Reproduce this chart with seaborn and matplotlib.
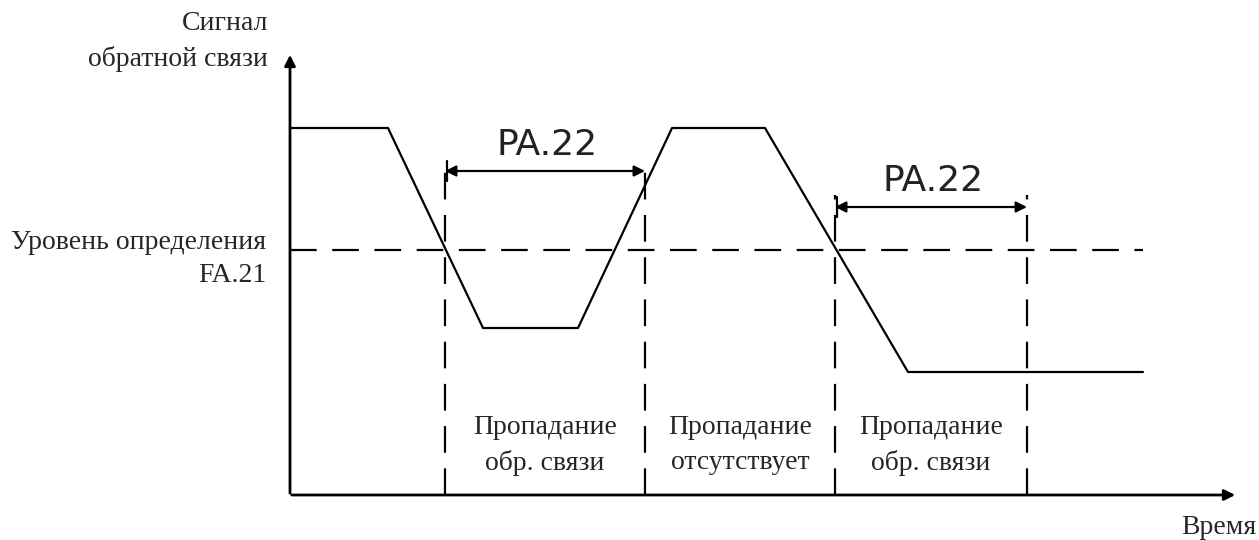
import numpy as np
import pandas as pd
import matplotlib
matplotlib.use("Agg")
import matplotlib.pyplot as plt
import seaborn as sns

sns.set_style("white")
plt.rcParams['font.family'] = ['Liberation Serif', 'DejaVu Serif']

# signal breakpoints (time, level) in drawing units
t_signal = [290, 388, 483, 578, 672, 765, 908, 1143]
v_signal = [412, 412, 212, 212, 412, 412, 168, 168]
threshold = 290
t_marks = [445, 645, 835, 1027]
delay_spans = [(445, 645), (835, 1027)]
delay_label = "PA.22"
zone_labels = ["Пропадание\nобр. связи", "Пропадание\nотсутствует", "Пропадание\nобр. связи"]

df = pd.DataFrame({"t": t_signal, "v": v_signal})

fig = plt.figure(figsize=(12.59, 5.40), dpi=100)
ax = fig.add_axes([0, 0, 1, 1])
ax.set_xlim(0, 1259)
ax.set_ylim(0, 540)
ax.axis("off")

# axes with arrows
x0, y0 = 290, 45
ax.annotate("", xy=(x0, 488), xytext=(x0, y0 - 1),
            arrowprops=dict(arrowstyle="-|>", color="black", lw=2, mutation_scale=16))
ax.annotate("", xy=(1238, y0), xytext=(x0 - 1, y0),
            arrowprops=dict(arrowstyle="-|>", color="black", lw=2, mutation_scale=16))

# signal
sns.lineplot(data=df, x="t", y="v", ax=ax, color="black", lw=1.6, legend=False)

# threshold
ax.plot([x0, 1143], [threshold, threshold], color="black", lw=1.6, ls=(0, (12, 7)))

# vertical dashed markers
tops = [378, 378, 345, 345]
for tm, top in zip(t_marks, tops):
    ax.plot([tm, tm], [y0, top], color="black", lw=1.6, ls=(0, (12, 7)))

# delay arrows
for (a, b), ya in zip(delay_spans, [369, 333]):
    ax.annotate("", xy=(b, ya), xytext=(a, ya),
                arrowprops=dict(arrowstyle="<|-|>", color="black", lw=1.6,
                                mutation_scale=16, shrinkA=0, shrinkB=0))
    ax.plot([a + 2, a + 2], [ya - 10, ya + 10], color="black", lw=1.6)
    ax.text((a + b) / 2 + 2, ya + 9, delay_label, ha="center", va="bottom",
            fontsize=26, family=["DejaVu Sans"], color="#222222")

# zone labels
for (a, b), lab in zip([(445, 645), (645, 835), (835, 1027)], zone_labels):
    ax.text((a + b) / 2, 95, lab, ha="center", va="center", fontsize=20, linespacing=1.5)

# axis labels
ax.text(268, 499, "Сигнал\nобратной связи", ha="right", va="center", fontsize=20, linespacing=1.5)
ax.text(266, 281, "Уровень определения\nFA.21", ha="right", va="center", fontsize=20, linespacing=1.4)
ax.text(1256, 13, "Время", ha="right", va="center", fontsize=20)

fig.savefig("out.png", dpi=100)
